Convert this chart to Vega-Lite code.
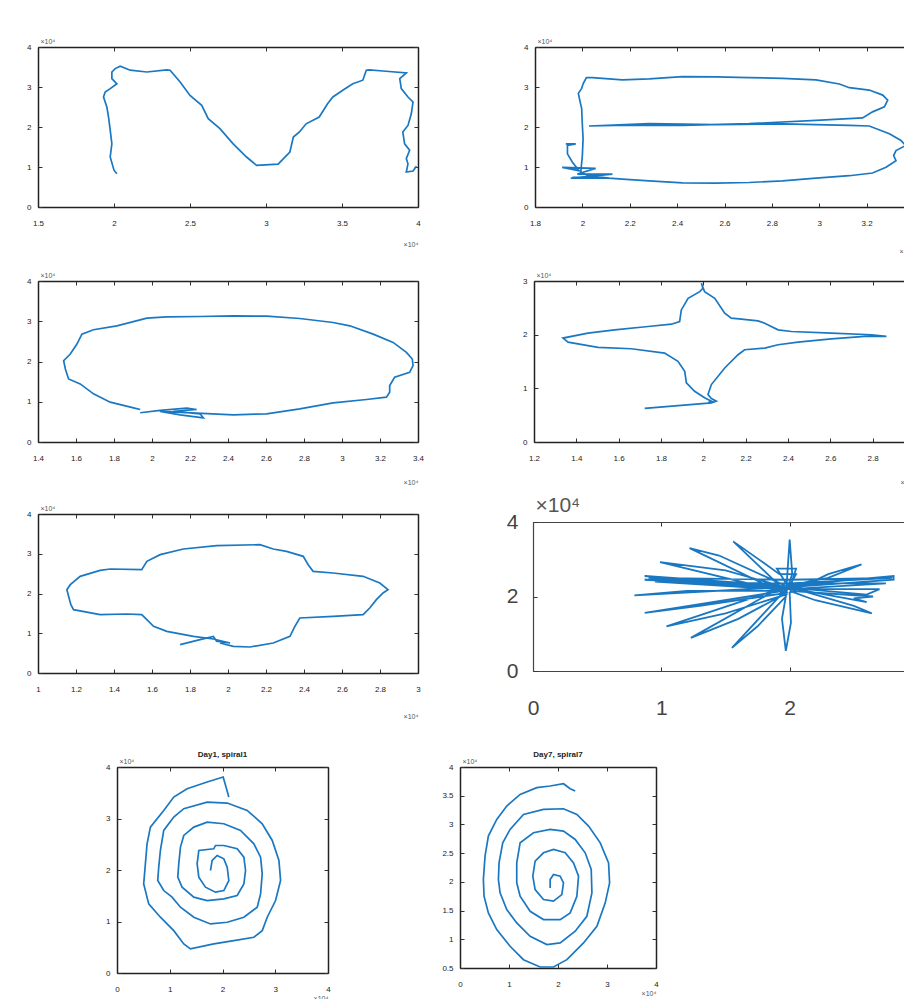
{
"$schema":"https://vega.github.io/schema/vega-lite/v6.json",
"padding":{"left":26,"top":37,"right":0,"bottom":0},
"config":{"view":{"stroke":null},"font":"Liberation Sans",
"axis":{"grid":false,"labelFont":"Liberation Sans","labelFontSize":8,"labelColor":"#222","domainColor":"#222","domainWidth":1.5,"tickColor":"#333","tickSize":-4,"tickWidth":1,"titleFont":"Liberation Sans","titleFontSize":7,"titleFontWeight":"normal","titleColor":"#555","labelFlush":false,"labelOverlap":false},
"axisX":{"labelPadding":16},"axisY":{"labelPadding":11},
"title":{"font":"Liberation Sans"}},
"datasets":{
"p1":[{"i":0,"x":2.019,"y":0.833},{"i":1,"x":2.0,"y":0.92},{"i":2,"x":1.975,"y":1.25},{"i":3,"x":1.986,"y":1.58},{"i":4,"x":1.975,"y":1.92},{"i":5,"x":1.964,"y":2.25},{"i":6,"x":1.953,"y":2.5},{"i":7,"x":1.931,"y":2.75},{"i":8,"x":1.942,"y":2.875},{"i":9,"x":1.975,"y":2.96},{"i":10,"x":2.019,"y":3.08},{"i":11,"x":1.986,"y":3.21},{"i":12,"x":1.986,"y":3.375},{"i":13,"x":2.008,"y":3.46},{"i":14,"x":2.041,"y":3.52},{"i":15,"x":2.106,"y":3.42},{"i":16,"x":2.216,"y":3.375},{"i":17,"x":2.347,"y":3.43},{"i":18,"x":2.369,"y":3.42},{"i":19,"x":2.435,"y":3.125},{"i":20,"x":2.5,"y":2.79},{"i":21,"x":2.577,"y":2.54},{"i":22,"x":2.62,"y":2.21},{"i":23,"x":2.697,"y":1.96},{"i":24,"x":2.784,"y":1.58},{"i":25,"x":2.872,"y":1.25},{"i":26,"x":2.938,"y":1.04},{"i":27,"x":3.08,"y":1.07},{"i":28,"x":3.157,"y":1.375},{"i":29,"x":3.18,"y":1.75},{"i":30,"x":3.22,"y":1.875},{"i":31,"x":3.264,"y":2.08},{"i":32,"x":3.35,"y":2.25},{"i":33,"x":3.405,"y":2.58},{"i":34,"x":3.44,"y":2.75},{"i":35,"x":3.505,"y":2.92},{"i":36,"x":3.571,"y":3.08},{"i":37,"x":3.637,"y":3.17},{"i":38,"x":3.66,"y":3.42},{"i":39,"x":3.68,"y":3.43},{"i":40,"x":3.77,"y":3.4},{"i":41,"x":3.923,"y":3.35},{"i":42,"x":3.88,"y":3.21},{"i":43,"x":3.89,"y":2.96},{"i":44,"x":3.934,"y":2.75},{"i":45,"x":3.967,"y":2.625},{"i":46,"x":3.956,"y":2.33},{"i":47,"x":3.934,"y":2.04},{"i":48,"x":3.9,"y":1.875},{"i":49,"x":3.912,"y":1.58},{"i":50,"x":3.945,"y":1.42},{"i":51,"x":3.923,"y":1.21},{"i":52,"x":3.934,"y":1.08},{"i":53,"x":3.923,"y":0.875},{"i":54,"x":3.967,"y":0.9},{"i":55,"x":3.99,"y":1.02}],
"p2":[{"i":0,"x":1.93,"y":1.58},{"i":1,"x":1.972,"y":1.58},{"i":2,"x":1.937,"y":1.538},{"i":3,"x":1.937,"y":1.328},{"i":4,"x":1.958,"y":1.118},{"i":5,"x":1.986,"y":0.908},{"i":6,"x":1.915,"y":0.992},{"i":7,"x":2.056,"y":0.966},{"i":8,"x":1.979,"y":0.824},{"i":9,"x":2.127,"y":0.824},{"i":10,"x":1.951,"y":0.723},{"i":11,"x":2.113,"y":0.723},{"i":12,"x":2.028,"y":0.782},{"i":13,"x":1.993,"y":0.866},{"i":14,"x":2.0,"y":1.286},{"i":15,"x":2.003,"y":1.706},{"i":16,"x":2.0,"y":2.042},{"i":17,"x":1.997,"y":2.462},{"i":18,"x":1.989,"y":2.672},{"i":19,"x":1.983,"y":2.84},{"i":20,"x":1.997,"y":2.966},{"i":21,"x":2.004,"y":3.092},{"i":22,"x":2.017,"y":3.235},{"i":23,"x":2.042,"y":3.235},{"i":24,"x":2.169,"y":3.176},{"i":25,"x":2.282,"y":3.202},{"i":26,"x":2.423,"y":3.261},{"i":27,"x":2.563,"y":3.252},{"i":28,"x":2.704,"y":3.235},{"i":29,"x":2.845,"y":3.218},{"i":30,"x":2.986,"y":3.176},{"i":31,"x":3.085,"y":3.076},{"i":32,"x":3.127,"y":2.983},{"i":33,"x":3.211,"y":2.924},{"i":34,"x":3.268,"y":2.798},{"i":35,"x":3.289,"y":2.672},{"i":36,"x":3.275,"y":2.504},{"i":37,"x":3.225,"y":2.378},{"i":38,"x":3.183,"y":2.227},{"i":39,"x":2.986,"y":2.168},{"i":40,"x":2.704,"y":2.084},{"i":41,"x":2.423,"y":2.042},{"i":42,"x":2.141,"y":2.042},{"i":43,"x":2.028,"y":2.025},{"i":44,"x":2.282,"y":2.084},{"i":45,"x":2.563,"y":2.059},{"i":46,"x":2.845,"y":2.076},{"i":47,"x":3.127,"y":2.042},{"i":48,"x":3.211,"y":2.025},{"i":49,"x":3.296,"y":1.832},{"i":50,"x":3.345,"y":1.664},{"i":51,"x":3.365,"y":1.538},{"i":52,"x":3.324,"y":1.412},{"i":53,"x":3.314,"y":1.286},{"i":54,"x":3.324,"y":1.16},{"i":55,"x":3.282,"y":0.992},{"i":56,"x":3.225,"y":0.849},{"i":57,"x":3.127,"y":0.782},{"i":58,"x":2.986,"y":0.723},{"i":59,"x":2.845,"y":0.655},{"i":60,"x":2.704,"y":0.613},{"i":61,"x":2.563,"y":0.597},{"i":62,"x":2.423,"y":0.605},{"i":63,"x":2.282,"y":0.655},{"i":64,"x":2.169,"y":0.697},{"i":65,"x":2.07,"y":0.739},{"i":66,"x":1.958,"y":0.739}],
"p3":[{"i":0,"x":1.938,"y":0.726},{"i":1,"x":2.043,"y":0.784},{"i":2,"x":2.183,"y":0.841},{"i":3,"x":2.235,"y":0.808},{"i":4,"x":2.113,"y":0.759},{"i":5,"x":2.253,"y":0.701},{"i":6,"x":2.27,"y":0.602},{"i":7,"x":2.148,"y":0.676},{"i":8,"x":2.043,"y":0.759},{"i":9,"x":2.428,"y":0.676},{"i":10,"x":2.603,"y":0.701},{"i":11,"x":2.778,"y":0.825},{"i":12,"x":2.953,"y":0.973},{"i":13,"x":3.129,"y":1.056},{"i":14,"x":3.234,"y":1.113},{"i":15,"x":3.251,"y":1.237},{"i":16,"x":3.251,"y":1.402},{"i":17,"x":3.277,"y":1.608},{"i":18,"x":3.356,"y":1.732},{"i":19,"x":3.374,"y":1.897},{"i":20,"x":3.37,"y":2.062},{"i":21,"x":3.339,"y":2.227},{"i":22,"x":3.269,"y":2.474},{"i":23,"x":3.164,"y":2.68},{"i":24,"x":3.041,"y":2.887},{"i":25,"x":2.953,"y":2.969},{"i":26,"x":2.778,"y":3.068},{"i":27,"x":2.603,"y":3.126},{"i":28,"x":2.428,"y":3.134},{"i":29,"x":2.253,"y":3.118},{"i":30,"x":2.078,"y":3.109},{"i":31,"x":1.973,"y":3.076},{"i":32,"x":1.815,"y":2.887},{"i":33,"x":1.692,"y":2.788},{"i":34,"x":1.631,"y":2.68},{"i":35,"x":1.605,"y":2.433},{"i":36,"x":1.57,"y":2.186},{"i":37,"x":1.535,"y":2.021},{"i":38,"x":1.544,"y":1.814},{"i":39,"x":1.561,"y":1.567},{"i":40,"x":1.622,"y":1.443},{"i":41,"x":1.692,"y":1.196},{"i":42,"x":1.78,"y":0.99},{"i":43,"x":1.903,"y":0.849},{"i":44,"x":1.938,"y":0.808}],
"p4":[{"i":0,"x":1.723,"y":0.625},{"i":1,"x":2.038,"y":0.73},{"i":2,"x":2.061,"y":0.761},{"i":3,"x":2.038,"y":0.81},{"i":4,"x":2.022,"y":0.884},{"i":5,"x":2.038,"y":1.07},{"i":6,"x":2.101,"y":1.379},{"i":7,"x":2.164,"y":1.626},{"i":8,"x":2.195,"y":1.719},{"i":9,"x":2.29,"y":1.75},{"i":10,"x":2.353,"y":1.812},{"i":11,"x":2.447,"y":1.861},{"i":12,"x":2.605,"y":1.923},{"i":13,"x":2.762,"y":1.967},{"i":14,"x":2.865,"y":1.967},{"i":15,"x":2.794,"y":1.998},{"i":16,"x":2.605,"y":2.028},{"i":17,"x":2.416,"y":2.059},{"i":18,"x":2.353,"y":2.09},{"i":19,"x":2.29,"y":2.214},{"i":20,"x":2.258,"y":2.257},{"i":21,"x":2.18,"y":2.288},{"i":22,"x":2.132,"y":2.307},{"i":23,"x":2.101,"y":2.4},{"i":24,"x":2.054,"y":2.678},{"i":25,"x":2.006,"y":2.801},{"i":26,"x":1.991,"y":2.956},{"i":27,"x":1.998,"y":2.863},{"i":28,"x":1.983,"y":2.801},{"i":29,"x":1.928,"y":2.678},{"i":30,"x":1.896,"y":2.461},{"i":31,"x":1.888,"y":2.245},{"i":32,"x":1.849,"y":2.195},{"i":33,"x":1.739,"y":2.152},{"i":34,"x":1.581,"y":2.09},{"i":35,"x":1.455,"y":2.028},{"i":36,"x":1.337,"y":1.936},{"i":37,"x":1.361,"y":1.861},{"i":38,"x":1.502,"y":1.763},{"i":39,"x":1.66,"y":1.738},{"i":40,"x":1.817,"y":1.657},{"i":41,"x":1.88,"y":1.503},{"i":42,"x":1.912,"y":1.317},{"i":43,"x":1.92,"y":1.101},{"i":44,"x":1.959,"y":0.946},{"i":45,"x":2.006,"y":0.823},{"i":46,"x":2.038,"y":0.761},{"i":47,"x":2.022,"y":0.73}],
"p5":[{"i":0,"x":1.748,"y":0.713},{"i":1,"x":1.853,"y":0.839},{"i":2,"x":1.923,"y":0.922},{"i":3,"x":1.94,"y":0.797},{"i":4,"x":2.011,"y":0.755},{"i":5,"x":1.923,"y":0.855},{"i":6,"x":1.818,"y":0.922},{"i":7,"x":1.678,"y":1.048},{"i":8,"x":1.608,"y":1.174},{"i":9,"x":1.573,"y":1.342},{"i":10,"x":1.546,"y":1.468},{"i":11,"x":1.468,"y":1.484},{"i":12,"x":1.327,"y":1.468},{"i":13,"x":1.187,"y":1.593},{"i":14,"x":1.173,"y":1.719},{"i":15,"x":1.161,"y":1.929},{"i":16,"x":1.152,"y":2.096},{"i":17,"x":1.17,"y":2.222},{"i":18,"x":1.222,"y":2.432},{"i":19,"x":1.327,"y":2.583},{"i":20,"x":1.38,"y":2.616},{"i":21,"x":1.546,"y":2.6},{"i":22,"x":1.573,"y":2.809},{"i":23,"x":1.643,"y":2.977},{"i":24,"x":1.765,"y":3.119},{"i":25,"x":1.94,"y":3.203},{"i":26,"x":2.168,"y":3.229},{"i":27,"x":2.238,"y":3.119},{"i":28,"x":2.308,"y":3.061},{"i":29,"x":2.396,"y":2.935},{"i":30,"x":2.422,"y":2.725},{"i":31,"x":2.448,"y":2.558},{"i":32,"x":2.553,"y":2.516},{"i":33,"x":2.711,"y":2.432},{"i":34,"x":2.799,"y":2.264},{"i":35,"x":2.842,"y":2.096},{"i":36,"x":2.816,"y":2.013},{"i":37,"x":2.781,"y":1.845},{"i":38,"x":2.746,"y":1.635},{"i":39,"x":2.711,"y":1.468},{"i":40,"x":2.553,"y":1.426},{"i":41,"x":2.378,"y":1.384},{"i":42,"x":2.352,"y":1.174},{"i":43,"x":2.326,"y":0.922},{"i":44,"x":2.238,"y":0.755},{"i":45,"x":2.116,"y":0.654},{"i":46,"x":2.028,"y":0.671},{"i":47,"x":1.958,"y":0.755}],
"p6":[{"i":0,"x":1.97,"y":2.2},{"i":1,"x":0.87,"y":2.55},{"i":2,"x":1.9,"y":2.3},{"i":3,"x":0.87,"y":2.45},{"i":4,"x":1.95,"y":2.25},{"i":5,"x":0.79,"y":2.03},{"i":6,"x":1.2,"y":2.15},{"i":7,"x":1.95,"y":2.15},{"i":8,"x":0.87,"y":1.56},{"i":9,"x":1.3,"y":1.75},{"i":10,"x":1.98,"y":2.1},{"i":11,"x":0.99,"y":2.92},{"i":12,"x":1.5,"y":2.7},{"i":13,"x":1.96,"y":2.25},{"i":14,"x":1.04,"y":1.2},{"i":15,"x":1.5,"y":1.55},{"i":16,"x":1.97,"y":2.05},{"i":17,"x":1.22,"y":3.3},{"i":18,"x":1.45,"y":3.1},{"i":19,"x":1.96,"y":2.3},{"i":20,"x":1.23,"y":0.89},{"i":21,"x":1.6,"y":1.4},{"i":22,"x":1.98,"y":2.1},{"i":23,"x":1.56,"y":3.48},{"i":24,"x":1.8,"y":2.9},{"i":25,"x":1.92,"y":2.6},{"i":26,"x":2.05,"y":2.6},{"i":27,"x":2.0,"y":2.3},{"i":28,"x":1.55,"y":0.62},{"i":29,"x":1.75,"y":1.2},{"i":30,"x":1.97,"y":2.0},{"i":31,"x":2.0,"y":3.53},{"i":32,"x":2.02,"y":2.6},{"i":33,"x":1.98,"y":2.2},{"i":34,"x":1.94,"y":1.4},{"i":35,"x":1.97,"y":0.54},{"i":36,"x":2.01,"y":1.3},{"i":37,"x":2.0,"y":2.1},{"i":38,"x":2.3,"y":2.6},{"i":39,"x":2.56,"y":2.86},{"i":40,"x":2.3,"y":2.5},{"i":41,"x":2.0,"y":2.3},{"i":42,"x":2.81,"y":2.55},{"i":43,"x":2.81,"y":2.45},{"i":44,"x":2.0,"y":2.25},{"i":45,"x":2.5,"y":1.75},{"i":46,"x":2.64,"y":1.55},{"i":47,"x":2.2,"y":1.9},{"i":48,"x":2.0,"y":2.15},{"i":49,"x":2.65,"y":2.0},{"i":50,"x":2.5,"y":1.95},{"i":51,"x":2.6,"y":1.85},{"i":52,"x":2.05,"y":2.2},{"i":53,"x":0.9,"y":2.5},{"i":54,"x":2.0,"y":2.45},{"i":55,"x":2.8,"y":2.5},{"i":56,"x":2.0,"y":2.35},{"i":57,"x":0.95,"y":2.4},{"i":58,"x":1.9,"y":2.2},{"i":59,"x":2.7,"y":2.2},{"i":60,"x":2.6,"y":2.05},{"i":61,"x":1.95,"y":2.25},{"i":62,"x":2.3,"y":2.35},{"i":63,"x":2.75,"y":2.35},{"i":64,"x":2.0,"y":2.2},{"i":65,"x":1.9,"y":2.75},{"i":66,"x":2.05,"y":2.75},{"i":67,"x":2.0,"y":2.2}],
"p7":[{"i":0,"x":2.12,"y":3.417},{"i":1,"x":2.013,"y":3.805},{"i":2,"x":1.709,"y":3.708},{"i":3,"x":1.329,"y":3.578},{"i":4,"x":1.076,"y":3.417},{"i":5,"x":0.886,"y":3.157},{"i":6,"x":0.633,"y":2.833},{"i":7,"x":0.57,"y":2.509},{"i":8,"x":0.538,"y":2.12},{"i":9,"x":0.506,"y":1.731},{"i":10,"x":0.601,"y":1.342},{"i":11,"x":0.823,"y":1.083},{"i":12,"x":1.076,"y":0.823},{"i":13,"x":1.266,"y":0.564},{"i":14,"x":1.392,"y":0.467},{"i":15,"x":1.835,"y":0.564},{"i":16,"x":2.215,"y":0.629},{"i":17,"x":2.595,"y":0.694},{"i":18,"x":2.753,"y":0.823},{"i":19,"x":2.848,"y":1.083},{"i":20,"x":3.006,"y":1.407},{"i":21,"x":3.101,"y":1.796},{"i":22,"x":3.07,"y":2.185},{"i":23,"x":2.943,"y":2.574},{"i":24,"x":2.753,"y":2.898},{"i":25,"x":2.468,"y":3.157},{"i":26,"x":2.089,"y":3.3},{"i":27,"x":1.709,"y":3.319},{"i":28,"x":1.266,"y":3.19},{"i":29,"x":1.076,"y":3.028},{"i":30,"x":0.886,"y":2.768},{"i":31,"x":0.823,"y":2.379},{"i":32,"x":0.791,"y":2.055},{"i":33,"x":0.772,"y":1.796},{"i":34,"x":0.886,"y":1.601},{"i":35,"x":1.044,"y":1.472},{"i":36,"x":1.203,"y":1.277},{"i":37,"x":1.456,"y":1.083},{"i":38,"x":1.772,"y":0.953},{"i":39,"x":2.089,"y":0.985},{"i":40,"x":2.405,"y":1.083},{"i":41,"x":2.658,"y":1.277},{"i":42,"x":2.722,"y":1.536},{"i":43,"x":2.753,"y":1.925},{"i":44,"x":2.722,"y":2.25},{"i":45,"x":2.595,"y":2.509},{"i":46,"x":2.342,"y":2.768},{"i":47,"x":2.025,"y":2.898},{"i":48,"x":1.709,"y":2.93},{"i":49,"x":1.456,"y":2.833},{"i":50,"x":1.266,"y":2.671},{"i":51,"x":1.203,"y":2.444},{"i":52,"x":1.171,"y":2.12},{"i":53,"x":1.152,"y":1.861},{"i":54,"x":1.234,"y":1.666},{"i":55,"x":1.456,"y":1.472},{"i":56,"x":1.709,"y":1.407},{"i":57,"x":2.025,"y":1.439},{"i":58,"x":2.278,"y":1.504},{"i":59,"x":2.405,"y":1.731},{"i":60,"x":2.437,"y":1.99},{"i":61,"x":2.405,"y":2.25},{"i":62,"x":2.278,"y":2.412},{"i":63,"x":2.025,"y":2.476},{"i":64,"x":1.867,"y":2.476},{"i":65,"x":1.835,"y":2.412},{"i":66,"x":1.551,"y":2.379},{"i":67,"x":1.519,"y":2.12},{"i":68,"x":1.551,"y":1.861},{"i":69,"x":1.677,"y":1.666},{"i":70,"x":1.867,"y":1.569},{"i":71,"x":2.025,"y":1.601},{"i":72,"x":2.12,"y":1.796},{"i":73,"x":2.089,"y":2.055},{"i":74,"x":2.025,"y":2.217},{"i":75,"x":1.899,"y":2.282},{"i":76,"x":1.804,"y":2.185},{"i":77,"x":1.772,"y":1.99}],
"p8":[{"i":0,"x":2.351,"y":3.581},{"i":1,"x":2.249,"y":3.622},{"i":2,"x":2.112,"y":3.709},{"i":3,"x":1.84,"y":3.669},{"i":4,"x":1.567,"y":3.64},{"i":5,"x":1.227,"y":3.523},{"i":6,"x":0.954,"y":3.32},{"i":7,"x":0.75,"y":3.087},{"i":8,"x":0.579,"y":2.797},{"i":9,"x":0.511,"y":2.448},{"i":10,"x":0.477,"y":2.041},{"i":11,"x":0.491,"y":1.75},{"i":12,"x":0.579,"y":1.459},{"i":13,"x":0.75,"y":1.169},{"i":14,"x":1.022,"y":0.878},{"i":15,"x":1.295,"y":0.645},{"i":16,"x":1.635,"y":0.517},{"i":17,"x":1.908,"y":0.517},{"i":18,"x":2.181,"y":0.645},{"i":19,"x":2.521,"y":0.936},{"i":20,"x":2.794,"y":1.227},{"i":21,"x":2.964,"y":1.634},{"i":22,"x":3.053,"y":1.983},{"i":23,"x":3.032,"y":2.331},{"i":24,"x":2.862,"y":2.68},{"i":25,"x":2.624,"y":2.971},{"i":26,"x":2.385,"y":3.174},{"i":27,"x":2.112,"y":3.273},{"i":28,"x":1.704,"y":3.262},{"i":29,"x":1.295,"y":3.174},{"i":30,"x":1.022,"y":2.913},{"i":31,"x":0.872,"y":2.68},{"i":32,"x":0.797,"y":2.331},{"i":33,"x":0.784,"y":2.041},{"i":34,"x":0.818,"y":1.808},{"i":35,"x":0.954,"y":1.517},{"i":36,"x":1.158,"y":1.285},{"i":37,"x":1.431,"y":1.052},{"i":38,"x":1.772,"y":0.907},{"i":39,"x":2.044,"y":0.936},{"i":40,"x":2.351,"y":1.14},{"i":41,"x":2.589,"y":1.401},{"i":42,"x":2.692,"y":1.808},{"i":43,"x":2.678,"y":2.215},{"i":44,"x":2.555,"y":2.506},{"i":45,"x":2.351,"y":2.738},{"i":46,"x":2.112,"y":2.884},{"i":47,"x":1.84,"y":2.913},{"i":48,"x":1.499,"y":2.855},{"i":49,"x":1.227,"y":2.68},{"i":50,"x":1.158,"y":2.331},{"i":51,"x":1.158,"y":1.983},{"i":52,"x":1.227,"y":1.75},{"i":53,"x":1.431,"y":1.488},{"i":54,"x":1.704,"y":1.343},{"i":55,"x":2.044,"y":1.343},{"i":56,"x":2.249,"y":1.459},{"i":57,"x":2.385,"y":1.75},{"i":58,"x":2.419,"y":2.099},{"i":59,"x":2.317,"y":2.331},{"i":60,"x":2.147,"y":2.506},{"i":61,"x":1.908,"y":2.564},{"i":62,"x":1.704,"y":2.506},{"i":63,"x":1.533,"y":2.36},{"i":64,"x":1.486,"y":2.099},{"i":65,"x":1.533,"y":1.866},{"i":66,"x":1.704,"y":1.692},{"i":67,"x":1.908,"y":1.663},{"i":68,"x":2.078,"y":1.779},{"i":69,"x":2.112,"y":1.983},{"i":70,"x":2.044,"y":2.099},{"i":71,"x":1.908,"y":2.128},{"i":72,"x":1.84,"y":2.041},{"i":73,"x":1.84,"y":1.895}]
},
"vconcat":[
{"vconcat":[
{"vconcat":[
{"hconcat":[
{"width":380,"height":160,"data":{"name":"p1"},
"layer":[
{"mark":{"type":"line","clip":true,"strokeWidth":1.7,"color":"#1a78c2"},
"encoding":{"x":{"field":"x","type":"quantitative","scale":{"domain":[1.5,4],"nice":false,"zero":false},"axis":{"orient":"bottom","values":[1.5,2,2.5,3,3.5,4],"format":"~g","title":"×10⁴","titleX":380,"titleY":37,"titleAlign":"right","titleBaseline":"middle"}},
"y":{"field":"y","type":"quantitative","scale":{"domain":[0,4],"nice":false,"zero":false},"axis":{"orient":"left","values":[0,1,2,3,4],"format":"~g","title":"×10⁴","titleX":2,"titleY":-3,"titleAngle":0,"titleAlign":"left","titleBaseline":"bottom"}},
"order":{"field":"i"}}},
{"mark":{"type":"line","opacity":0},
"encoding":{"x":{"field":"x","type":"quantitative","scale":{"domain":[1.5,4],"nice":false,"zero":false},"axis":{"orient":"top","values":[1.5,2,2.5,3,3.5,4],"labels":false,"title":null}},
"y":{"field":"y","type":"quantitative","scale":{"domain":[0,4],"nice":false,"zero":false},"axis":{"orient":"right","values":[0,1,2,3,4],"labels":false,"title":null}},
"order":{"field":"i"}}}],
"resolve":{"axis":{"x":"independent","y":"independent"}}},
{"width":379,"height":160,"data":{"name":"p2"},
"layer":[
{"mark":{"type":"line","clip":true,"strokeWidth":1.7,"color":"#1a78c2"},
"encoding":{"x":{"field":"x","type":"quantitative","scale":{"domain":[1.8,3.4],"nice":false,"zero":false},"axis":{"orient":"bottom","values":[1.8,2,2.2,2.4,2.6,2.8,3,3.2,3.4],"format":"~g","title":"×10⁴","titleX":379,"titleY":44,"titleAlign":"right","titleBaseline":"middle"}},
"y":{"field":"y","type":"quantitative","scale":{"domain":[0,4],"nice":false,"zero":false},"axis":{"orient":"left","values":[0,1,2,3,4],"format":"~g","title":"×10⁴","titleX":2,"titleY":-3,"titleAngle":0,"titleAlign":"left","titleBaseline":"bottom"}},
"order":{"field":"i"}}},
{"mark":{"type":"line","opacity":0},
"encoding":{"x":{"field":"x","type":"quantitative","scale":{"domain":[1.8,3.4],"nice":false,"zero":false},"axis":{"orient":"top","values":[1.8,2,2.2,2.4,2.6,2.8,3,3.2,3.4],"labels":false,"title":null}},
"y":{"field":"y","type":"quantitative","scale":{"domain":[0,4],"nice":false,"zero":false},"axis":{"orient":"right","values":[0,1,2,3,4],"labels":false,"title":null}},
"order":{"field":"i"}}}],
"resolve":{"axis":{"x":"independent","y":"independent"}}}
],"spacing":102},
{"hconcat":[
{"width":380,"height":161,"data":{"name":"p3"},
"layer":[
{"mark":{"type":"line","clip":true,"strokeWidth":1.7,"color":"#1a78c2"},
"encoding":{"x":{"field":"x","type":"quantitative","scale":{"domain":[1.4,3.4],"nice":false,"zero":false},"axis":{"orient":"bottom","values":[1.4,1.6,1.8,2,2.2,2.4,2.6,2.8,3,3.2,3.4],"format":"~g","title":"×10⁴","titleX":380,"titleY":40,"titleAlign":"right","titleBaseline":"middle"}},
"y":{"field":"y","type":"quantitative","scale":{"domain":[0,4],"nice":false,"zero":false},"axis":{"orient":"left","values":[0,1,2,3,4],"format":"~g","title":"×10⁴","titleX":2,"titleY":-3,"titleAngle":0,"titleAlign":"left","titleBaseline":"bottom"}},
"order":{"field":"i"}}},
{"mark":{"type":"line","opacity":0},
"encoding":{"x":{"field":"x","type":"quantitative","scale":{"domain":[1.4,3.4],"nice":false,"zero":false},"axis":{"orient":"top","values":[1.4,1.6,1.8,2,2.2,2.4,2.6,2.8,3,3.2,3.4],"labels":false,"title":null}},
"y":{"field":"y","type":"quantitative","scale":{"domain":[0,4],"nice":false,"zero":false},"axis":{"orient":"right","values":[0,1,2,3,4],"labels":false,"title":null}},
"order":{"field":"i"}}}],
"resolve":{"axis":{"x":"independent","y":"independent"}}},
{"width":381,"height":161,"data":{"name":"p4"},
"layer":[
{"mark":{"type":"line","clip":true,"strokeWidth":1.7,"color":"#1a78c2"},
"encoding":{"x":{"field":"x","type":"quantitative","scale":{"domain":[1.2,3.0],"nice":false,"zero":false},"axis":{"orient":"bottom","values":[1.2,1.4,1.6,1.8,2,2.2,2.4,2.6,2.8,3],"format":"~g","title":"×10⁴","titleX":381,"titleY":40,"titleAlign":"right","titleBaseline":"middle"}},
"y":{"field":"y","type":"quantitative","scale":{"domain":[0,3],"nice":false,"zero":false},"axis":{"orient":"left","values":[0,1,2,3],"format":"~g","title":"×10⁴","titleX":2,"titleY":-3,"titleAngle":0,"titleAlign":"left","titleBaseline":"bottom"}},
"order":{"field":"i"}}},
{"mark":{"type":"line","opacity":0},
"encoding":{"x":{"field":"x","type":"quantitative","scale":{"domain":[1.2,3.0],"nice":false,"zero":false},"axis":{"orient":"top","values":[1.2,1.4,1.6,1.8,2,2.2,2.4,2.6,2.8,3],"labels":false,"title":null}},
"y":{"field":"y","type":"quantitative","scale":{"domain":[0,3],"nice":false,"zero":false},"axis":{"orient":"right","values":[0,1,2,3],"labels":false,"title":null}},
"order":{"field":"i"}}}],
"resolve":{"axis":{"x":"independent","y":"independent"}}}
],"spacing":98}
],"spacing":17},
{"hconcat":[
{"width":380,"height":159,"data":{"name":"p5"},
"layer":[
{"mark":{"type":"line","clip":true,"strokeWidth":1.7,"color":"#1a78c2"},
"encoding":{"x":{"field":"x","type":"quantitative","scale":{"domain":[1,3],"nice":false,"zero":false},"axis":{"orient":"bottom","values":[1,1.2,1.4,1.6,1.8,2,2.2,2.4,2.6,2.8,3],"format":"~g","title":"×10⁴","titleX":380,"titleY":43,"titleAlign":"right","titleBaseline":"middle"}},
"y":{"field":"y","type":"quantitative","scale":{"domain":[0,4],"nice":false,"zero":false},"axis":{"orient":"left","values":[0,1,2,3,4],"format":"~g","title":"×10⁴","titleX":2,"titleY":-3,"titleAngle":0,"titleAlign":"left","titleBaseline":"bottom"}},
"order":{"field":"i"}}},
{"mark":{"type":"line","opacity":0},
"encoding":{"x":{"field":"x","type":"quantitative","scale":{"domain":[1,3],"nice":false,"zero":false},"axis":{"orient":"top","values":[1,1.2,1.4,1.6,1.8,2,2.2,2.4,2.6,2.8,3],"labels":false,"title":null}},
"y":{"field":"y","type":"quantitative","scale":{"domain":[0,4],"nice":false,"zero":false},"axis":{"orient":"right","values":[0,1,2,3,4],"labels":false,"title":null}},
"order":{"field":"i"}}}],
"resolve":{"axis":{"x":"independent","y":"independent"}}},
{"width":385,"height":159,"data":{"name":"p6"},
"layer":[
{"mark":{"type":"line","clip":true,"strokeWidth":1.8,"color":"#1a78c2"},
"encoding":{"x":{"field":"x","type":"quantitative","scale":{"domain":[0,3],"nice":false,"zero":false},"axis":{"orient":"bottom","offset":-2,"values":[0,1,2,3],"format":"~g","title":null,"labelFontSize":21,"labelColor":"#444","labelPadding":30,"domainColor":"#444","domainWidth":1.2}},
"y":{"field":"y","type":"quantitative","scale":{"domain":[0,4],"range":[157,8],"nice":false,"zero":false},"axis":{"orient":"left","values":[0,2,4],"format":"~g","labelFontSize":21,"labelColor":"#444","labelPadding":19,"domainColor":"#444","domainWidth":1.2,"title":"×10⁴","titleFontSize":21,"titleColor":"#555","titleX":2,"titleY":1,"titleAngle":0,"titleAlign":"left","titleBaseline":"bottom"}},
"order":{"field":"i"}}},
{"mark":{"type":"line","opacity":0},
"encoding":{"x":{"field":"x","type":"quantitative","scale":{"domain":[0,3],"nice":false,"zero":false},"axis":{"orient":"top","offset":-8,"values":[0,1,2,3],"labels":false,"title":null,"domainColor":"#444","domainWidth":1.2}},
"y":{"field":"y","type":"quantitative","scale":{"domain":[0,4],"range":[157,8],"nice":false,"zero":false},"axis":null},
"order":{"field":"i"}}}],
"resolve":{"axis":{"x":"independent","y":"independent"}}}
],"spacing":85}
],"spacing":9},
{"hconcat":[
{"width":67,"height":10,"data":{"values":[{"i":0}]},"mark":{"type":"point","opacity":0},"encoding":{}},
{"hconcat":[
{"width":211,"height":206,"data":{"name":"p7"},
"title":{"text":"Day1, spiral1","fontSize":8,"fontWeight":"bold","color":"#222","offset":-2,"frame":"group"},
"layer":[
{"mark":{"type":"line","clip":true,"strokeWidth":1.7,"color":"#1a78c2"},
"encoding":{"x":{"field":"x","type":"quantitative","scale":{"domain":[0,4],"nice":false,"zero":false},"axis":{"orient":"bottom","values":[0,1,2,3,4],"format":"~g","title":"×10⁴","titleX":211,"titleY":25,"titleAlign":"right","titleBaseline":"middle"}},
"y":{"field":"y","type":"quantitative","scale":{"domain":[0,4],"nice":false,"zero":false},"axis":{"orient":"left","values":[0,1,2,3,4],"format":"~g","title":"×10⁴","titleX":2,"titleY":-3,"titleAngle":0,"titleAlign":"left","titleBaseline":"bottom"}},
"order":{"field":"i"}}},
{"mark":{"type":"line","opacity":0},
"encoding":{"x":{"field":"x","type":"quantitative","scale":{"domain":[0,4],"nice":false,"zero":false},"axis":{"orient":"top","values":[0,1,2,3,4],"labels":false,"title":null}},
"y":{"field":"y","type":"quantitative","scale":{"domain":[0,4],"nice":false,"zero":false},"axis":{"orient":"right","values":[0,1,2,3,4],"labels":false,"title":null}},
"order":{"field":"i"}}}],
"resolve":{"axis":{"x":"independent","y":"independent"}}},
{"width":196,"height":201,"data":{"name":"p8"},
"title":{"text":"Day7, spiral7","fontSize":8,"fontWeight":"bold","color":"#222","offset":-2,"frame":"group"},
"layer":[
{"mark":{"type":"line","clip":true,"strokeWidth":1.7,"color":"#1a78c2"},
"encoding":{"x":{"field":"x","type":"quantitative","scale":{"domain":[0,4],"nice":false,"zero":false},"axis":{"orient":"bottom","values":[0,1,2,3,4],"format":"~g","title":"×10⁴","titleX":196,"titleY":25,"titleAlign":"right","titleBaseline":"middle"}},
"y":{"field":"y","type":"quantitative","scale":{"domain":[0.5,4],"nice":false,"zero":false},"axis":{"orient":"left","values":[0.5,1,1.5,2,2.5,3,3.5,4],"format":"~g","title":"×10⁴","titleX":2,"titleY":-3,"titleAngle":0,"titleAlign":"left","titleBaseline":"bottom"}},
"order":{"field":"i"}}},
{"mark":{"type":"line","opacity":0},
"encoding":{"x":{"field":"x","type":"quantitative","scale":{"domain":[0,4],"nice":false,"zero":false},"axis":{"orient":"top","values":[0,1,2,3,4],"labels":false,"title":null}},
"y":{"field":"y","type":"quantitative","scale":{"domain":[0.5,4],"nice":false,"zero":false},"axis":{"orient":"right","values":[0.5,1,1.5,2,2.5,3,3.5,4],"labels":false,"title":null}},
"order":{"field":"i"}}}],
"resolve":{"axis":{"x":"independent","y":"independent"}}}
],"spacing":110}
],"spacing":0}
],"spacing":32}
